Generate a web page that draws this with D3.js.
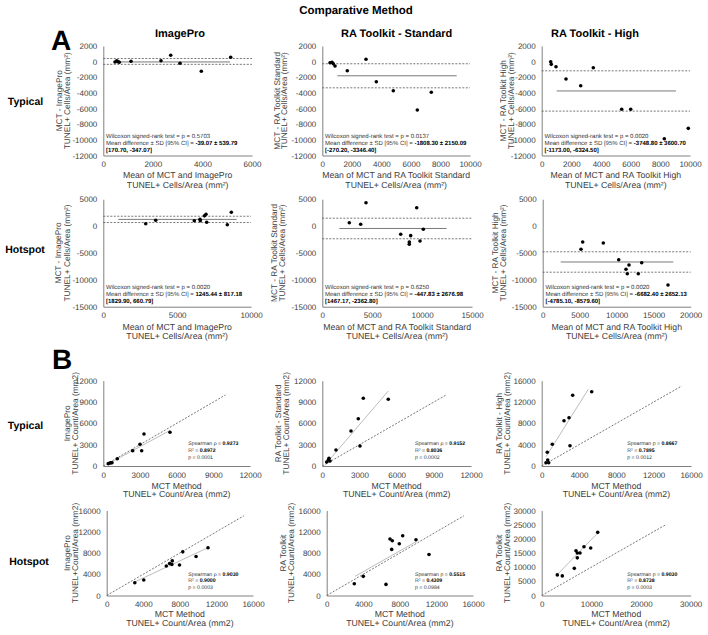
<!DOCTYPE html>
<html><head><meta charset="utf-8">
<script src="https://cdn.jsdelivr.net/npm/d3@7"></script>
<style>
body{margin:0;background:#fff;}
svg text{font-family:"Liberation Sans",Arial,Helvetica,sans-serif;text-rendering:geometricPrecision;}
</style></head><body>
<svg id="chart" width="708" height="635"></svg>
<script>
// ================= DATA =================
const mainTitle = "Comparative Method";
const columnTitles = ["ImagePro", "RA Toolkit - Standard", "RA Toolkit - High"];
const rowLabels = ["Typical", "Hotspot", "Typical", "Hotspot"];
const sectionLabels = ["A", "B"];

// ---- Section A : Bland-Altman ----
const baYTitles = ["MCT - ImagePro", "MCT - RA Toolkit Standard", "MCT - RA Toolkit High"];
const baXTitles = ["Mean of MCT and ImagePro", "Mean of MCT and RA Toolkit Standard", "Mean of MCT and RA Toolkit High"];
const baUnitTitle = "TUNEL+ Cells/Area (mm²)";
const baTypYTicks = [-12000, -10000, -8000, -6000, -4000, -2000, 0, 2000];
const baHotYTicks = [-15000, -10000, -5000, 0, 5000];
const a1XTicks = [0, 2000, 4000, 6000];
const a2XTicks = [0, 2000, 4000, 6000, 8000, 10000];
const a3XTicks = [0, 2000, 4000, 6000, 8000, 10000];
const a4XTicks = [0, 5000, 10000];
const a5XTicks = [0, 5000, 10000, 15000];
const a6XTicks = [0, 5000, 10000, 15000, 20000];

// A1 Typical / ImagePro
const a1Mean = [472, 541, 593, 645, 1118, 2328, 2720, 3095, 3955, 5140];
const a1Diff = [-46, 122, 0, -85, 43, 122, 811, -213, -1237, 555];
const a1Lines = [-39.07, 400, -347.07];           // mean diff, upper, lower
const a1MeanSpan = [472, 5112];
const a1Text = ["0.5703", "-39.07 ± 539.79", "[170.70, -347.07]"];
// A2 Typical / RA Standard
const a2Mean = [522, 657, 744, 860, 1693, 2959, 3657, 4808, 6432, 7380];
const a2Diff = [-136, -84, -263, -558, -1158, 299, -2565, -3716, -6184, -3921];
const a2Lines = [-1808.30, -270.20, -3346.40];
const a2MeanSpan = [1016, 9100];
const a2Text = ["0.0137", "-1808.30 ± 2150.09", "[-270.20, -3346.40]"];
// A3 Typical / RA High
const a3Mean = [607, 647, 964, 1639, 2630, 3480, 5394, 6001, 8267, 9885];
const a3Diff = [-7, -347, -647, -2220, -3076, -774, -6096, -6096, -9853, -8527];
const a3Lines = [-3748.80, -1173.00, -6324.50];
const a3MeanSpan = [1007, 9053];
const a3Text = ["0.0020", "-3748.80 ± 3600.70", "[-1173.00, -6324.50]"];
// A4 Hotspot / ImagePro
const a4Mean = [2871, 3548, 6162, 6547, 6568, 6850, 6954, 7000, 8396, 8667];
const a4Diff = [446, 1077, 1003, 1263, 1003, 1900, 2191, 706, 260, 2562];
const a4Lines = [1245.44, 1829.90, 660.79];
const a4MeanSpan = [1016, 9033];
const a4Text = ["0.0020", "1245.44 ± 817.18", "[1829.90, 660.79]"];
// A5 Hotspot / RA Standard
const a5Mean = [2705, 3847, 4379, 7856, 8857, 8717, 8717, 9789, 9459, 10120];
const a5Diff = [631, 334, 4345, -1523, -1782, -2952, -3379, -2766, 3416, -594];
const a5Lines = [-447.83, 1467.17, -2362.80];
const a5MeanSpan = [1704, 12461];
const a5Text = ["0.6250", "-447.83 ± 2676.98", "[1467.17, -2362.80]"];
// A6 Hotspot / RA High
const a6Mean = [5176, 5405, 8189, 10270, 11257, 11432, 11662, 12919, 13378, 16932];
const a6Diff = [-4324, -2961, -3147, -6257, -8045, -8864, -7244, -8864, -6816, -10968];
const a6Lines = [-6682.40, -4785.10, -8579.60];
const a6MeanSpan = [2432, 17650];
const a6Text = ["0.0020", "-6682.40 ± 2652.13", "[-4785.10, -8579.60]"];

// ---- Section B : correlation ----
const corrXTitle = "MCT Method";
const corrXUnit = "TUNEL+ Count/Area (mm2)";
const corrYTitles = ["ImagePro", "RA Toolkit - Standard", "RA Toolkit - High", "ImagePro", "RA Toolkit", "RA Toolkit"];
const corrYUnits = ["TUNEL+ Count/Area (mm2)", "TUNEL+ Count/Area (mm2)", "TUNEL+ Count/Area (mm2)",
                    "TUNEL+Count/Area (mm2)", "TUNEL+Count/Area (mm2)", "TUNEL+Count/Area (mm2)"];
const b12Ticks = [0, 3000, 6000, 9000, 12000];
const b16Ticks = [0, 4000, 8000, 12000, 16000];
const b6XTicks = [0, 10000, 20000, 30000];
const b6YTicks = [0, 5000, 10000, 15000, 20000, 25000, 30000];

const b1Mct = [409, 548, 630, 711, 1144, 2404, 3001, 3140, 3328, 5454];
const b1Other = [328, 422, 464, 464, 1027, 2152, 3053, 2152, 4502, 4741];
const b1Trend = [[409, 320], [5454, 5000]];
const b1Identity = 10000;
const b1Stats = ["ρ", "0.9273", "0.8972", "0.0001"];

const b2Mct = [355, 484, 540, 622, 1105, 2316, 2905, 3042, 3308, 5324];
const b2Other = [563, 844, 1083, 703, 2251, 4924, 6654, 2814, 9524, 9383];
const b2Trend = [[403, 520], [5324, 10550]];
const b2Identity = 10000;
const b2Stats = ["ρ", "0.9152", "0.8036", "0.0002"];

const b3Mct = [461, 600, 643, 750, 1136, 2390, 2926, 3033, 3322, 5358];
const b3Other = [619, 2570, 1125, 619, 4070, 8497, 9060, 3808, 13261, 13937];
const b3Trend = [[461, 1744], [4994, 14387]];
const b3Identity = 15000;
const b3Stats = ["p", "0.8667", "0.7895", "0.0012"];

const b4Mct = [3074, 4052, 6517, 6876, 7126, 7169, 7962, 8320, 9776, 11079];
const b4Other = [2410, 2904, 5561, 6017, 5827, 6510, 5751, 8218, 7345, 8977];
const b4Trend = [[2890, 2410], [11145, 9053]];
const b4Identity = 15000;
const b4Stats = ["ρ", "0.9030", "0.9000", "0.0003"];

const b5Mct = [3018, 4002, 6484, 6921, 7108, 7174, 7939, 8311, 9765, 11187];
const b5Other = [2214, 3606, 2088, 10629, 8674, 10306, 9737, 11255, 10496, 7725];
const b5Trend = [[3095, 3606], [9765, 10116]];
const b5Identity = 15000;
const b5Stats = ["p", "0.5515", "0.4309", "0.0984"];

const b6Mct = [3141, 4148, 6564, 6906, 7168, 7168, 7711, 8517, 9866, 11275];
const b6Other = [7266, 6920, 9585, 15813, 13287, 15017, 15017, 17197, 16747, 22284];
const b6Trend = [[3342, 7751], [11396, 22284]];
const b6Identity = 25000;
const b6Stats = ["p", "0.9030", "0.8738", "0.0003"];

// ================= DRAWING =================
const svg = d3.select("#chart");
const TXT = "#404040";
const AXC = "#808080";

svg.append("text").attr("x", 356).attr("y", 14).attr("text-anchor", "middle")
  .attr("font-weight", "bold").attr("font-size", 11.5).attr("fill", "#000").text(mainTitle);

const colCenters = [180, 396.7, 595];
columnTitles.forEach((t, i) => svg.append("text").attr("x", colCenters[i]).attr("y", 37.2)
  .attr("text-anchor", "middle").attr("font-weight", "bold").attr("font-size", 11).text(t));

const rowLabelPos = [[25.5, 101.7], [25, 249], [25.5, 425], [29, 561.7]];
rowLabels.forEach((t, i) => svg.append("text").attr("x", rowLabelPos[i][0]).attr("y", rowLabelPos[i][1])
  .attr("dy", "0.35em").attr("text-anchor", "middle").attr("font-weight", "bold").attr("font-size", 10.5).text(t));

const secPos = [[51, 50], [52, 369]];
sectionLabels.forEach((t, i) => svg.append("text").attr("x", secPos[i][0]).attr("y", secPos[i][1])
  .attr("font-weight", "bold").attr("font-size", 28).text(t));

const fmt = d => String(d);

function axes(g, x, y, xTicks, yTicks, xAxisAt) {
  const ax = g.append("g").attr("transform", `translate(0,${xAxisAt})`)
    .call(d3.axisBottom(x).tickValues(xTicks).tickFormat(fmt).tickSize(0).tickSizeOuter(0).tickPadding(6));
  const ay = g.append("g").attr("transform", `translate(${x(0)},0)`)
    .call(d3.axisLeft(y).tickValues(yTicks).tickFormat(fmt).tickSize(0).tickSizeOuter(0).tickPadding(6));
  [ax, ay].forEach(a => {
    a.attr("font-size", 8).attr("font-family", null);
    a.select(".domain").attr("stroke", AXC).attr("stroke-width", 1);
    a.selectAll("text").attr("fill", TXT);
  });
}

function yTitle(g, axisX, cy, offs, l1, l2) {
  [[l1, offs[0]], [l2, offs[1]]].forEach(([t, o]) => {
    g.append("text").attr("transform", `translate(${axisX - o},${cy}) rotate(-90)`)
      .attr("dy", "0.35em").attr("text-anchor", "middle").attr("font-size", 8.3).attr("fill", TXT).text(t);
  });
}
function xTitle(g, cx, ys, l1, l2) {
  [[l1, ys[0]], [l2, ys[1]]].forEach(([t, yy]) => {
    g.append("text").attr("x", cx).attr("y", yy).attr("dy", "0.35em")
      .attr("text-anchor", "middle").attr("font-size", 8.7).attr("fill", TXT).text(t);
  });
}

// ---- Section A ----
const aRows = [
  { top: 46, bottom: 155.5, yDomain: [-12000, 2000], yTicks: baTypYTicks, xt: [175, 184.5] },
  { top: 199.2, bottom: 306.7, yDomain: [-15000, 5000], yTicks: baHotYTicks, xt: [326.7, 336] }
];
const aPanels = [
  { row: 0, col: 0, m: a1Mean, d: a1Diff, lines: a1Lines, span: a1MeanSpan, txt: a1Text, xd: [0, 6000], xt: a1XTicks, xr: [103.3, 252], yo: [44, 36.6] },
  { row: 0, col: 1, m: a2Mean, d: a2Diff, lines: a2Lines, span: a2MeanSpan, txt: a2Text, xd: [0, 10000], xt: a2XTicks, xr: [322.3, 470], yo: [45.6, 38.3] },
  { row: 0, col: 2, m: a3Mean, d: a3Diff, lines: a3Lines, span: a3MeanSpan, txt: a3Text, xd: [0, 10000], xt: a3XTicks, xr: [541.7, 690], yo: [38.5, 31] },
  { row: 1, col: 0, m: a4Mean, d: a4Diff, lines: a4Lines, span: a4MeanSpan, txt: a4Text, xd: [0, 10000], xt: a4XTicks, xr: [103.3, 251], yo: [45, 36.6] },
  { row: 1, col: 1, m: a5Mean, d: a5Diff, lines: a5Lines, span: a5MeanSpan, txt: a5Text, xd: [0, 15000], xt: a5XTicks, xr: [322.3, 472], yo: [48, 40.6] },
  { row: 1, col: 2, m: a6Mean, d: a6Diff, lines: a6Lines, span: a6MeanSpan, txt: a6Text, xd: [0, 20000], xt: a6XTicks, xr: [542.7, 690.7], yo: [47.7, 39.4] }
];

aPanels.forEach(p => {
  const r = aRows[p.row];
  const g = svg.append("g");
  const x = d3.scaleLinear().domain(p.xd).range(p.xr);
  const y = d3.scaleLinear().domain(r.yDomain).range([r.bottom, r.top]);
  axes(g, x, y, p.xt, r.yTicks, r.bottom);
  [p.lines[1], p.lines[2]].forEach(v => {
    g.append("line").attr("x1", x(p.xd[0])).attr("x2", x(p.xd[1])).attr("y1", y(v)).attr("y2", y(v))
      .attr("stroke", "#555").attr("stroke-width", 0.8).attr("stroke-dasharray", "2,1.5");
  });
  g.append("line").attr("x1", x(p.span[0])).attr("x2", x(p.span[1])).attr("y1", y(p.lines[0])).attr("y2", y(p.lines[0]))
    .attr("stroke", "#7a7a7a").attr("stroke-width", 1);
  g.selectAll("circle.pt").data(p.m.map((v, i) => [v, p.d[i]])).enter().append("circle")
    .attr("cx", d => x(d[0])).attr("cy", d => y(d[1])).attr("r", 1.8).attr("fill", "#000");
  yTitle(g, x(0), (r.top + r.bottom) / 2, p.yo, baYTitles[p.col], baUnitTitle);
  xTitle(g, (p.xr[0] + p.xr[1]) / 2, r.xt, baXTitles[p.col], baUnitTitle);
  const ax = x(0) + 2.7;
  g.append("text").attr("x", ax).attr("y", r.bottom - 17.3).attr("font-size", 6).attr("fill", "#333")
    .text("Wilcoxon signed-rank test = p = " + p.txt[0]);
  const t2 = g.append("text").attr("x", ax).attr("y", r.bottom - 10.4).attr("font-size", 6).attr("fill", "#333");
  t2.append("tspan").text("Mean difference ± SD [95% CI] = ");
  t2.append("tspan").attr("font-weight", "bold").attr("fill", "#000").text(p.txt[1]);
  g.append("text").attr("x", ax).attr("y", r.bottom - 3.3).attr("font-size", 6).attr("font-weight", "bold")
    .attr("fill", "#000").text(p.txt[2]);
});

// ---- Section B ----
const bRows = [
  { top: 380.7, bottom: 466, xt: [485.7, 494.2], st: [445.2, 452.4, 459] },
  { top: 510.5, bottom: 595.5, xt: [614, 622.5], st: [576.4, 582.4, 588.6] }
];
const bPanels = [
  { row: 0, col: 0, xs: b1Mct, ys: b1Other, tr: b1Trend, id: b1Identity, st: b1Stats, dom: [0, 12000], xt: b12Ticks, yt: b12Ticks, xr: [103.3, 250], yo: [36.5, 28.5], sx: 188.3 },
  { row: 0, col: 1, xs: b2Mct, ys: b2Other, tr: b2Trend, id: b2Identity, st: b2Stats, dom: [0, 12000], xt: b12Ticks, yt: b12Ticks, xr: [322.3, 471], yo: [44, 36.6], sx: 415 },
  { row: 0, col: 2, xs: b3Mct, ys: b3Other, tr: b3Trend, id: b3Identity, st: b3Stats, dom: [0, 16000], xt: b16Ticks, yt: b16Ticks, xr: [541.7, 691], yo: [42.4, 35], sx: 627.3 },
  { row: 1, col: 0, xs: b4Mct, ys: b4Other, tr: b4Trend, id: b4Identity, st: b4Stats, dom: [0, 16000], xt: b16Ticks, yt: b16Ticks, xr: [106.7, 253], yo: [39.5, 31.5], sx: 188.3 },
  { row: 1, col: 1, xs: b5Mct, ys: b5Other, tr: b5Trend, id: b5Identity, st: b5Stats, dom: [0, 16000], xt: b16Ticks, yt: b16Ticks, xr: [326.7, 473], yo: [44, 35.7], sx: 415 },
  { row: 1, col: 2, xs: b6Mct, ys: b6Other, tr: b6Trend, id: b6Identity, st: b6Stats, dom: [0, 30000], xt: b6XTicks, yt: b6YTicks, xr: [541.7, 690.7], yo: [42.4, 35], sx: 627.3 }
];

bPanels.forEach((p, i) => {
  const r = bRows[p.row];
  const g = svg.append("g");
  const x = d3.scaleLinear().domain(p.dom).range(p.xr);
  const y = d3.scaleLinear().domain(p.dom).range([r.bottom, r.top]);
  axes(g, x, y, p.xt, p.yt, r.bottom);
  g.append("line").attr("x1", x(0)).attr("y1", y(0)).attr("x2", x(p.id)).attr("y2", y(p.id))
    .attr("stroke", "#555").attr("stroke-width", 0.8).attr("stroke-dasharray", "2,1.5");
  g.append("line").attr("x1", x(p.tr[0][0])).attr("y1", y(p.tr[0][1])).attr("x2", x(p.tr[1][0])).attr("y2", y(p.tr[1][1]))
    .attr("stroke", "#bdbdbd").attr("stroke-width", 1);
  g.selectAll("circle.pt").data(p.xs.map((v, k) => [v, p.ys[k]])).enter().append("circle")
    .attr("cx", d => x(d[0])).attr("cy", d => y(d[1])).attr("r", 1.8).attr("fill", "#000");
  yTitle(g, x(0), (r.top + r.bottom) / 2, p.yo, corrYTitles[i], corrYUnits[i]);
  xTitle(g, (p.xr[0] + p.xr[1]) / 2, r.xt, corrXTitle, corrXUnit);
  const s1 = g.append("text").attr("x", p.sx).attr("y", r.st[0]).attr("font-size", 5.2).attr("fill", "#333");
  s1.append("tspan").text("Spearman " + p.st[0] + " = ");
  s1.append("tspan").attr("font-weight", "bold").attr("fill", "#000").text(p.st[1]);
  const s2 = g.append("text").attr("x", p.sx).attr("y", r.st[1]).attr("font-size", 5.2).attr("fill", "#333");
  s2.append("tspan").text("R² = ");
  s2.append("tspan").attr("font-weight", "bold").attr("fill", "#000").text(p.st[2]);
  g.append("text").attr("x", p.sx).attr("y", r.st[2]).attr("font-size", 5.2).attr("fill", "#333").text("p = " + p.st[3]);
});
</script>
</body></html>
